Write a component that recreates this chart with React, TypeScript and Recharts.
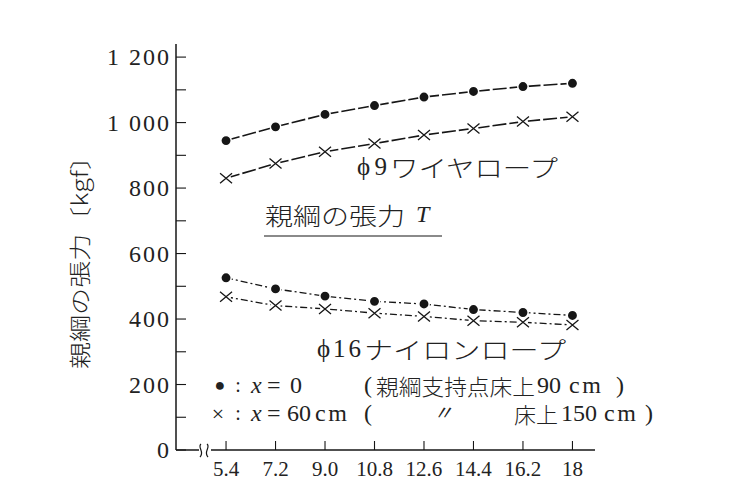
import React from 'react';
import { LineChart, Line, XAxis, YAxis } from 'recharts';

// Span between supports (m) – x-axis categories
const spans = [5.4, 7.2, 9.0, 10.8, 12.6, 14.4, 16.2, 18];
const spanLabels = ['5.4', '7.2', '9.0', '10.8', '12.6', '14.4', '16.2', '18'];

// φ9 wire rope
const wireAtX0 = [945, 987, 1025, 1052, 1078, 1095, 1110, 1120];
const wireAtX60 = [830, 875, 911, 936, 962, 982, 1003, 1018];

// φ16 nylon rope
const nylonAtX0 = [526, 492, 470, 454, 446, 429, 420, 411];
const nylonAtX60 = [468, 441, 431, 418, 408, 395, 390, 382];

const yTicks = [0, 100, 200, 300, 400, 500, 600, 700, 800, 900, 1000, 1100, 1200];
const yTickLabels: Record<number, string> = {
  0: '0',
  200: '200',
  400: '400',
  600: '600',
  800: '800',
  1000: '1 000',
  1200: '1 200',
};

const data = spans.map((s, i) => ({
  span: s,
  wireX0: wireAtX0[i],
  wireX60: wireAtX60[i],
  nylonX0: nylonAtX0[i],
  nylonX60: nylonAtX60[i],
}));

const INK = '#161616';
const TXT = '#222';
const LSERIF = "'Liberation Serif', 'Noto Sans CJK JP', serif";
const JP = "'Noto Sans CJK JP', 'Liberation Serif', sans-serif";

const XTick = (props: any) => {
  const { x, y, payload } = props;
  const idx = spans.indexOf(payload.value);
  return (
    <g>
      <line x1={x} x2={x} y1={y} y2={y - 9} stroke={INK} strokeWidth={1.1} />
      <text
        x={x}
        y={y + 19}
        textAnchor="middle"
        dominantBaseline="central"
        fontFamily={LSERIF}
        fontSize={21}
        fill={TXT}
      >
        {idx >= 0 ? spanLabels[idx] : String(payload.value)}
      </text>
    </g>
  );
};

const YTick = (props: any) => {
  const { x, y, payload } = props;
  const label = yTickLabels[payload.value];
  return (
    <g>
      <line x1={x} x2={x + 10} y1={y} y2={y} stroke={INK} strokeWidth={1.1} />
      {label !== undefined && (
        <text
          x={x - 5}
          y={y}
          textAnchor="end"
          dominantBaseline="central"
          fontFamily={LSERIF}
          fontSize={24}
          letterSpacing={2}
          fill={TXT}
        >
          {label}
        </text>
      )}
    </g>
  );
};

const DotMark = (props: any) => {
  const { cx, cy, key } = props;
  if (cx == null || cy == null) return <g key={key} />;
  return <circle key={key} cx={cx} cy={cy} r={5.2} fill={INK} stroke="#fff" strokeWidth={1.5} />;
};

const CrossMark = (props: any) => {
  const { cx, cy, key } = props;
  if (cx == null || cy == null) return <g key={key} />;
  return (
    <g key={key}>
      <circle cx={cx} cy={cy} r={5} fill="#fff" />
      <path
        d={`M${cx - 6},${cy - 5}L${cx + 6},${cy + 5}M${cx - 6},${cy + 5}L${cx + 6},${cy - 5}`}
        stroke={INK}
        strokeWidth={1.3}
        fill="none"
      />
    </g>
  );
};

// page coordinates -> overlay coordinates (body margin is 8px)
const P = (v: number) => v - 8;

const Seg = (p: {
  x: number;
  y: number;
  w?: number;
  font?: string;
  size?: number;
  italic?: boolean;
  anchor?: 'start' | 'middle' | 'end';
  children: React.ReactNode;
}) => {
  const latin = p.font === LSERIF;
  return (
    <text
      x={P(p.x)}
      y={P(p.y)}
      dominantBaseline="central"
      textAnchor={p.anchor || 'start'}
      fontFamily={p.font || JP}
      fontWeight={latin ? 400 : 300}
      fontStyle={p.italic ? 'italic' : 'normal'}
      fontSize={p.size || 22}
      fill={TXT}
      textLength={p.w}
      lengthAdjust={p.w ? (latin ? 'spacing' : 'spacingAndGlyphs') : undefined}
    >
      {p.children}
    </text>
  );
};

const R1 = 385;
const R2 = 413;

const Overlay = () => (
  <svg
    width={723}
    height={478}
    style={{ position: 'absolute', left: 0, top: 0, pointerEvents: 'none' }}
  >
    {/* y-axis title */}
    <text
      transform={`translate(${P(78)},${P(256)}) rotate(-90)`}
      textAnchor="middle"
      dominantBaseline="central"
      fontFamily={JP}
      fontWeight={300}
      fontSize={22}
      fill={TXT}
      textLength={226}
      lengthAdjust="spacingAndGlyphs"
    >
      親綱の張力〔kgf〕
    </text>

    {/* axis break mark */}
    <rect x={P(199)} y={P(446)} width={12} height={8} fill="#fff" />
    <path d={`M${P(201)},${P(444)} C${P(197)},${P(447)} ${P(205)},${P(452)} ${P(200)},${P(457)}`} stroke={INK} strokeWidth={1.2} fill="none" />
    <path d={`M${P(207)},${P(444)} C${P(211)},${P(447)} ${P(203)},${P(452)} ${P(208)},${P(457)}`} stroke={INK} strokeWidth={1.2} fill="none" />

    {/* φ9 wire rope label */}
    <Seg x={357} y={166} w={30} font={LSERIF} size={25}>ϕ9</Seg>
    <Seg x={390} y={166} w={168} size={24}>ワイヤロープ</Seg>

    {/* title of curves */}
    <Seg x={265} y={214} w={140} size={24}>親綱の張力</Seg>
    <Seg x={416} y={214} font={LSERIF} size={24} italic>T</Seg>
    <line x1={P(264)} x2={P(442)} y1={P(236)} y2={P(236)} stroke={INK} strokeWidth={1.2} />

    {/* φ16 nylon rope label */}
    <Seg x={317} y={348} w={44} font={LSERIF} size={25}>ϕ16</Seg>
    <Seg x={364} y={348} w={202} size={24}>ナイロンロープ</Seg>

    {/* legend row 1 */}
    <Seg x={220} y={R1} font={LSERIF} size={18} anchor="middle">●</Seg>
    <Seg x={238} y={R1} font={LSERIF} size={20} anchor="middle">:</Seg>
    <Seg x={251} y={R1} font={LSERIF} size={24} italic>x</Seg>
    <Seg x={267} y={R1} font={LSERIF} size={24}>=</Seg>
    <Seg x={290} y={R1} font={LSERIF} size={24}>0</Seg>
    <Seg x={364} y={R1} font={LSERIF} size={24}>(</Seg>
    <Seg x={376} y={R1} w={159} size={22}>親綱支持点床上</Seg>
    <Seg x={537} y={R1} font={LSERIF} size={24}>90</Seg>
    <Seg x={569} y={R1} font={LSERIF} size={24} w={32}>cm</Seg>
    <Seg x={616} y={R1} font={LSERIF} size={24}>)</Seg>

    {/* legend row 2 */}
    <Seg x={218} y={R2} font={LSERIF} size={22} anchor="middle">×</Seg>
    <Seg x={238} y={R2} font={LSERIF} size={20} anchor="middle">:</Seg>
    <Seg x={251} y={R2} font={LSERIF} size={24} italic>x</Seg>
    <Seg x={267} y={R2} font={LSERIF} size={24}>=</Seg>
    <Seg x={287} y={R2} font={LSERIF} size={24}>60</Seg>
    <Seg x={315} y={R2} font={LSERIF} size={24} w={32}>cm</Seg>
    <Seg x={364} y={R2} font={LSERIF} size={24}>(</Seg>
    <Seg x={443} y={R2} font={LSERIF} size={20} italic anchor="middle">〃</Seg>
    <Seg x={514} y={R2} w={44} size={22}>床上</Seg>
    <Seg x={561} y={R2} font={LSERIF} size={24}>150</Seg>
    <Seg x={604} y={R2} font={LSERIF} size={24} w={32}>cm</Seg>
    <Seg x={645} y={R2} font={LSERIF} size={24}>)</Seg>
  </svg>
);

export default function App() {
  return (
    <div style={{ position: 'relative', width: 723, height: 478, background: '#fff' }}>
      <LineChart
        width={723}
        height={478}
        data={data}
        margin={{ top: 36, right: 136, bottom: 6, left: 108 }}
      >
        <XAxis
          dataKey="span"
          type="number"
          domain={[3.58, 18.82]}
          ticks={spans}
          interval={0}
          height={30}
          tickSize={0}
          tickMargin={0}
          tickLine={false}
          axisLine={{ stroke: INK, strokeWidth: 1.5 }}
          tick={<XTick />}
        />
        <YAxis
          type="number"
          domain={[0, 1240]}
          ticks={yTicks}
          interval={0}
          width={60}
          tickSize={0}
          tickMargin={0}
          tickLine={false}
          axisLine={{ stroke: INK, strokeWidth: 1.5 }}
          tick={<YTick />}
        />
        <Line
          dataKey="wireX0"
          type="linear"
          stroke={INK}
          strokeWidth={1.6}
          strokeDasharray="14 3"
          dot={DotMark}
          isAnimationActive={false}
        />
        <Line
          dataKey="wireX60"
          type="linear"
          stroke={INK}
          strokeWidth={1.6}
          strokeDasharray="14 3"
          dot={CrossMark}
          isAnimationActive={false}
        />
        <Line
          dataKey="nylonX0"
          type="linear"
          stroke={INK}
          strokeWidth={1.3}
          strokeDasharray="7 3 2 3"
          dot={DotMark}
          isAnimationActive={false}
        />
        <Line
          dataKey="nylonX60"
          type="linear"
          stroke={INK}
          strokeWidth={1.3}
          strokeDasharray="7 3 2 3"
          dot={CrossMark}
          isAnimationActive={false}
        />
      </LineChart>
      <Overlay />
    </div>
  );
}
